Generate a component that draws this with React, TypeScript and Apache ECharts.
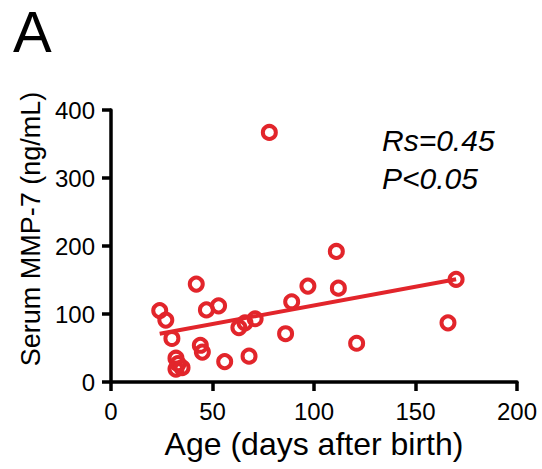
import React, { useEffect, useRef } from "react";
import * as echarts from "echarts";

const ageDays = [78, 42, 24, 27, 30, 47, 53, 44, 45, 56, 32, 33, 32, 35, 63, 66, 71, 68, 86, 89, 97, 111, 112, 121, 166, 170];
const mmp7 = [367, 144, 105, 91, 64, 106, 112, 54, 44, 30, 35, 27, 19, 21, 80, 87, 93, 38, 71, 118, 141, 192, 138, 57, 87, 151];
const fitX = [24, 170];
const fitY = [71, 151];
const xTicks = [0, 50, 100, 150, 200];
const yTicks = [0, 100, 200, 300, 400];
const statLines = ["Rs=0.45", "P<0.05"];

const RED = "#e2252b";
const FONT = "'Liberation Sans', Arial, sans-serif";

export default function App() {
  const ref = useRef<HTMLDivElement>(null);
  useEffect(() => {
    if (!ref.current) return;
    const chart = echarts.init(ref.current, undefined, { renderer: "svg" });
    const axisCommon = {
      axisLine: { show: true, lineStyle: { color: "#000", width: 3.5 } },
      axisTick: { show: true, inside: false, length: 9, lineStyle: { color: "#000", width: 3.5 } },
      splitLine: { show: false },
      nameLocation: "middle" as const,
    };
    chart.setOption({
      animation: false,
      backgroundColor: "#fff",
      grid: { left: 111, right: 25, top: 110, bottom: 87, containLabel: false },
      xAxis: {
        type: "value",
        min: xTicks[0],
        max: xTicks[xTicks.length - 1],
        interval: 50,
        ...axisCommon,
        axisLabel: { color: "#000", fontSize: 24, fontFamily: FONT, margin: 17 },
        name: "Age (days after birth)",
        nameGap: 45,
        nameTextStyle: { color: "#000", fontSize: 32, fontFamily: FONT },
      },
      yAxis: {
        type: "value",
        min: yTicks[0],
        max: yTicks[yTicks.length - 1],
        interval: 100,
        ...axisCommon,
        axisLabel: { color: "#000", fontSize: 24, fontFamily: FONT, margin: 16 },
        name: "Serum MMP-7 (ng/mL)",
        nameGap: 66,
        nameRotate: 90,
        nameTextStyle: { color: "#000", fontSize: 27, fontFamily: FONT, padding: [0, 0, 0, 34] },
      },
      series: [
        {
          type: "line",
          data: fitX.map((x, i) => [x, fitY[i]]),
          symbol: "none",
          lineStyle: { color: RED, width: 4 },
          z: 2,
        },
        {
          type: "scatter",
          data: ageDays.map((x, i) => [x, mmp7[i]]),
          symbol: "circle",
          symbolSize: 13,
          itemStyle: { color: "rgba(255,255,255,0)", borderColor: RED, borderWidth: 4, opacity: 1 },
          z: 3,
        },
      ],
      graphic: [
        {
          type: "text",
          left: 13,
          top: 2,
          style: { text: "A", fontSize: 58, fontFamily: FONT, fill: "#000" },
        },
        {
          type: "text",
          left: 382,
          top: 121,
          style: {
            text: statLines.join("\n"),
            fontSize: 30,
            lineHeight: 38,
            fontStyle: "italic",
            fontFamily: FONT,
            fill: "#000",
          },
        },
      ],
    });
    return () => chart.dispose();
  }, []);
  return <div ref={ref} style={{ width: 542, height: 469, position: "absolute", left: 0, top: 0 }} />;
}
